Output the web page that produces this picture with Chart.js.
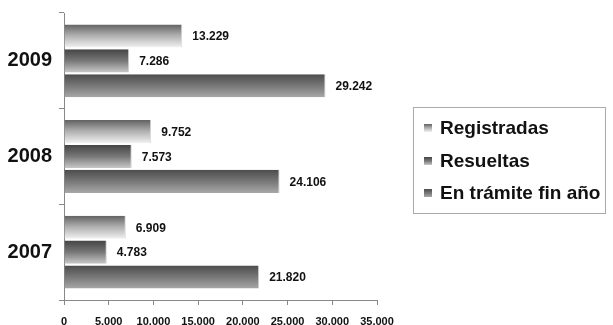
<!DOCTYPE html>
<html><head><meta charset="utf-8">
<script src="https://cdn.jsdelivr.net/npm/chart.js@4"></script>
<style>html,body{margin:0;padding:0;background:#fff;}#wrap{width:613px;height:325px;position:relative;}</style>
</head><body><div id="wrap"><canvas id="c" width="613" height="325"></canvas></div>
<script>
const categories = ['2009', '2008', '2007'];
const registradas = [13229, 9752, 6909];
const resueltas = [7286, 7573, 4783];
const enTramite = [29242, 24106, 21820];
const seriesNames = ['Registradas', 'Resueltas', 'En trámite fin año'];
const xTicks = [0, 5000, 10000, 15000, 20000, 25000, 30000, 35000];

const gradStops = [
  [[0,'#626262'],[0.45,'#ababab'],[1,'#f2f2f2']],
  [[0,'#444444'],[0.5,'#787878'],[1,'#c8c8c8']],
  [[0,'#4c4c4c'],[0.55,'#7c7c7c'],[1,'#a8a8a8']]
];
const flat = ['#bbbbbb','#777777','#7d7d7d'];

function fmt(v){ return v.toString().replace(/\B(?=(\d{3})+(?!\d))/g, '.'); }

const gradPlugin = {
  id:'grad',
  beforeDatasetsDraw(chart){
    const ctx = chart.ctx;
    chart.data.datasets.forEach((ds, di) => {
      const meta = chart.getDatasetMeta(di);
      meta.data.forEach(el => {
        const top = el.y - el.height/2, bot = el.y + el.height/2;
        const g = ctx.createLinearGradient(0, top, 0, bot);
        gradStops[di].forEach(s => g.addColorStop(s[0], s[1]));
        el.options = Object.assign({}, el.options, {backgroundColor: g});
      });
    });
  },
  afterDatasetsDraw(chart){
    const ctx = chart.ctx;
    ctx.save();
    ctx.font = 'bold 12px "Liberation Sans", Arial, sans-serif';
    ctx.fillStyle = '#111';
    ctx.textBaseline = 'middle';
    ctx.textAlign = 'left';
    chart.data.datasets.forEach((ds, di) => {
      const meta = chart.getDatasetMeta(di);
      meta.data.forEach((el, i) => {
        ctx.fillText(fmt(ds.data[i]), el.x + 10, el.y + 1);
      });
    });
    // legend
    const lx = 413, ly = 107, lw = 192, lh = 106;
    ctx.strokeStyle = '#aaaaaa';
    ctx.lineWidth = 1;
    ctx.strokeRect(lx + 0.5, ly + 0.5, lw, lh);
    ctx.font = 'bold 19px "Liberation Sans", Arial, sans-serif';
    ctx.fillStyle = '#111';
    const ys = [128, 161, 193];
    chart.data.datasets.forEach((ds, di) => {
      const y = ys[di];
      const g = ctx.createLinearGradient(0, y - 4, 0, y + 4);
      gradStops[di].forEach(s => g.addColorStop(s[0], s[1]));
      ctx.fillStyle = g;
      ctx.fillRect(424, y - 4, 8, 8);
      ctx.fillStyle = '#111';
      ctx.fillText(ds.label, 440, y + 1);
    });
    ctx.restore();
  }
};

new Chart(document.getElementById('c'), {
  type: 'bar',
  data: {
    labels: categories,
    datasets: [
      {label: seriesNames[0], data: registradas, backgroundColor: flat[0], borderColor: '#d8d8d8', borderWidth: {right:1,top:0,bottom:0,left:0}},
      {label: seriesNames[1], data: resueltas, backgroundColor: flat[1], borderColor: '#d0d0d0', borderWidth: {right:1,top:0,bottom:0,left:0}},
      {label: seriesNames[2], data: enTramite, backgroundColor: flat[2], borderColor: '#d0d0d0', borderWidth: {right:1,top:0,bottom:0,left:0}}
    ]
  },
  options: {
    indexAxis: 'y',
    responsive: false,
    animation: false,
    events: [],
    layout: {padding: {top: 13, right: 236, bottom: 0, left: 0}},
    categoryPercentage: 0.78,
    barPercentage: 0.93,
    plugins: {legend: {display: false}, tooltip: {enabled: false}},
    scales: {
      x: {
        min: 0, max: 35000,
        afterBuildTicks(scale){ scale.ticks = xTicks.map(v => ({value: v})); },
        afterFit(scale){ scale.height = 25; scale.paddingLeft = 0; scale.paddingRight = 0; },
        grid: {drawOnChartArea: false, drawTicks: true, tickLength: 5, color: '#888'},
        border: {display: true, color: '#888'},
        ticks: {
          padding: 11,
          color: '#111',
          font: {family: '"Liberation Sans", Arial, sans-serif', size: 11, weight: 'bold', lineHeight: 1},
          maxRotation: 0, autoSkip: false,
          callback: v => fmt(v)
        }
      },
      y: {
        afterFit(scale){ scale.width = 64; scale.paddingTop = 0; scale.paddingBottom = 0; },
        grid: {drawOnChartArea: false, drawTicks: true, tickLength: 5, offset: true, color: '#888'},
        border: {display: true, color: '#888'},
        ticks: {
          padding: 7,
          color: '#111',
          font: {family: '"Liberation Sans", Arial, sans-serif', size: 20, weight: 'bold', lineHeight: 1}
        }
      }
    }
  },
  plugins: [gradPlugin]
});
</script></body></html>
